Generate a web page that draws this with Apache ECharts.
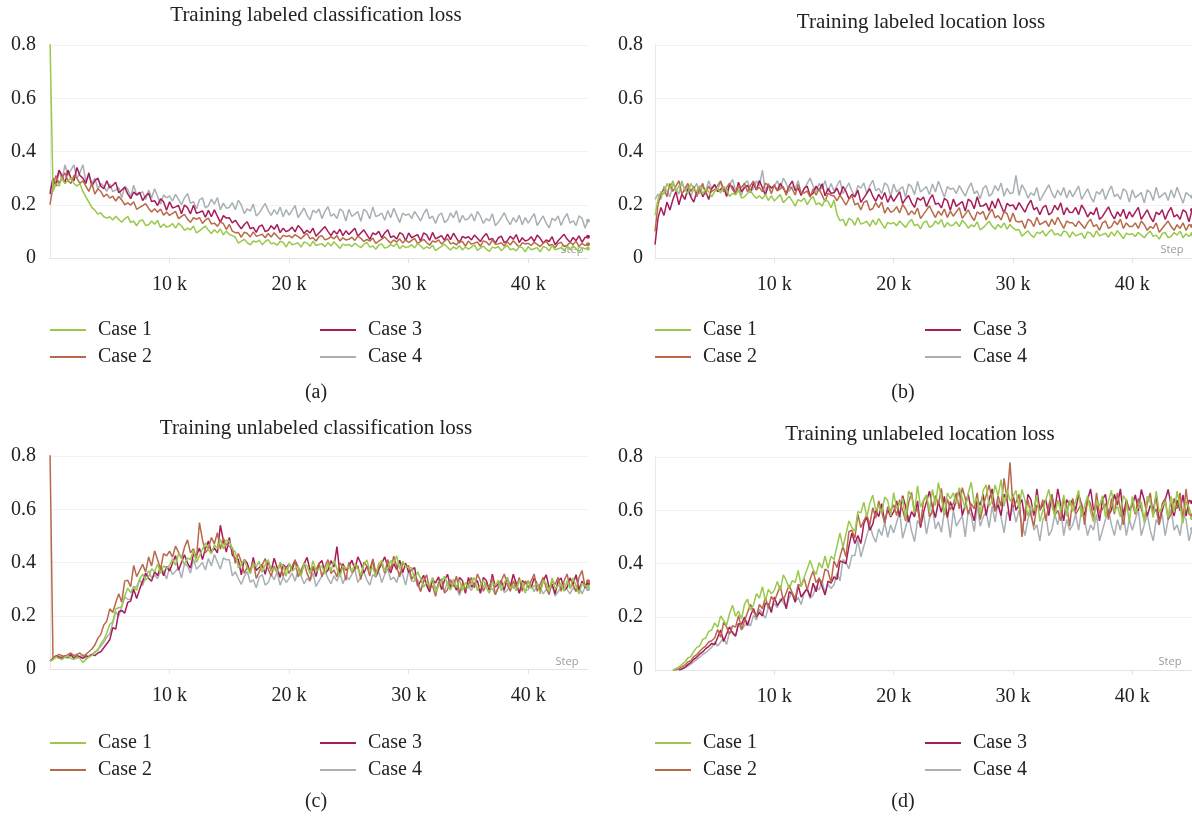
<!DOCTYPE html>
<html>
<head>
<meta charset="utf-8">
<script src="https://cdn.jsdelivr.net/npm/echarts@6/dist/echarts.min.js"></script>
<style>
html,body{margin:0;padding:0;background:#fff;}
#chart{width:1192px;height:822px;}
</style>
</head>
<body>
<div id="chart"></div>
<script>
// x positions: one value every 250 steps, 0 .. 45000
const steps = Array.from({length: 181}, (_, i) => i * 250);
const caseNames = ['Case 1', 'Case 2', 'Case 3', 'Case 4'];
const titles = ['Training labeled classification loss', 'Training labeled location loss',
                'Training unlabeled classification loss', 'Training unlabeled location loss'];
const captions = ['(a)', '(b)', '(c)', '(d)'];
const yTicks = [0, 0.2, 0.4, 0.6, 0.8];
const xTicks = [10000, 20000, 30000, 40000];

// (a) Training labeled classification loss
const aCase1 = [
 0.82,0.25,0.28,0.27,0.30,0.28,0.29,0.30,0.28,0.27,0.28,0.25,0.23,0.21,0.19,0.18,0.165,0.17,0.155,0.15,
 0.155,0.143,0.157,0.145,0.134,0.147,0.156,0.134,0.138,0.121,0.14,0.143,0.122,0.125,0.139,0.127,0.141,0.114,0.128,0.116,
 0.12,0.129,0.112,0.131,0.12,0.104,0.112,0.106,0.12,0.094,0.102,0.111,0.12,0.104,0.092,0.106,0.095,0.109,0.087,0.101,
 0.088,0.084,0.078,0.056,0.063,0.07,0.058,0.049,0.064,0.06,0.067,0.05,0.062,0.069,0.053,0.056,0.048,0.063,0.059,0.042,
 0.062,0.05,0.053,0.057,0.041,0.06,0.056,0.044,0.063,0.047,0.051,0.054,0.042,0.058,0.045,0.061,0.049,0.036,0.052,0.048,
 0.051,0.043,0.055,0.047,0.039,0.051,0.059,0.041,0.045,0.033,0.049,0.053,0.037,0.041,0.051,0.043,0.055,0.035,0.047,0.039,
 0.042,0.05,0.038,0.054,0.046,0.034,0.042,0.036,0.048,0.028,0.036,0.044,0.052,0.04,0.03,0.042,0.034,0.046,0.03,0.042,
 0.033,0.041,0.049,0.029,0.037,0.045,0.033,0.025,0.041,0.037,0.043,0.027,0.039,0.047,0.031,0.035,0.027,0.043,0.039,0.023,
 0.043,0.031,0.035,0.039,0.023,0.043,0.039,0.027,0.047,0.031,0.035,0.039,0.027,0.043,0.031,0.047,0.035,0.023,0.039,0.035,
 0.036];
const aCase2 = [
 0.20,0.27,0.31,0.28,0.30,0.32,0.29,0.28,0.31,0.30,0.28,0.29,0.27,0.25,0.28,0.24,0.26,0.25,0.23,0.24,
 0.225,0.232,0.214,0.231,0.218,0.20,0.207,0.199,0.211,0.183,0.19,0.197,0.204,0.186,0.173,0.185,0.172,0.184,0.161,0.173,
 0.16,0.168,0.175,0.148,0.156,0.164,0.146,0.134,0.152,0.145,0.152,0.13,0.143,0.15,0.128,0.131,0.119,0.136,0.129,0.107,
 0.126,0.101,0.095,0.096,0.078,0.097,0.092,0.079,0.098,0.082,0.085,0.089,0.076,0.092,0.079,0.095,0.082,0.07,0.085,0.081,
 0.084,0.076,0.088,0.08,0.072,0.084,0.092,0.072,0.076,0.064,0.08,0.084,0.068,0.072,0.08,0.072,0.084,0.064,0.076,0.068,
 0.07,0.078,0.066,0.082,0.074,0.062,0.07,0.063,0.075,0.055,0.063,0.071,0.079,0.067,0.056,0.068,0.06,0.072,0.056,0.068,
 0.058,0.066,0.074,0.054,0.062,0.07,0.058,0.048,0.064,0.06,0.068,0.052,0.064,0.072,0.053,0.057,0.049,0.065,0.061,0.045,
 0.064,0.052,0.056,0.06,0.044,0.064,0.06,0.048,0.068,0.052,0.053,0.057,0.045,0.061,0.049,0.065,0.053,0.041,0.057,0.053,
 0.055,0.047,0.059,0.051,0.043,0.055,0.063,0.047,0.051,0.039,0.055,0.059,0.043,0.047,0.059,0.051,0.063,0.043,0.055,0.047,
 0.052];
const aCase3 = [
 0.24,0.30,0.27,0.33,0.31,0.28,0.33,0.30,0.29,0.34,0.31,0.30,0.28,0.32,0.27,0.29,0.30,0.27,0.26,0.29,
 0.263,0.273,0.284,0.245,0.255,0.266,0.241,0.223,0.248,0.237,0.247,0.216,0.233,0.243,0.212,0.215,0.197,0.222,0.211,0.179,
 0.211,0.188,0.192,0.197,0.166,0.199,0.189,0.166,0.198,0.168,0.172,0.177,0.153,0.179,0.155,0.181,0.157,0.134,0.159,0.15,
 0.151,0.132,0.142,0.125,0.11,0.126,0.136,0.11,0.115,0.096,0.119,0.124,0.099,0.104,0.121,0.108,0.126,0.095,0.112,0.099,
 0.104,0.116,0.098,0.122,0.11,0.092,0.104,0.094,0.112,0.082,0.094,0.106,0.118,0.1,0.084,0.102,0.09,0.108,0.084,0.102,
 0.088,0.1,0.112,0.082,0.094,0.106,0.088,0.07,0.094,0.088,0.1,0.076,0.094,0.106,0.077,0.083,0.071,0.095,0.089,0.065,
 0.094,0.076,0.082,0.088,0.064,0.094,0.088,0.066,0.096,0.072,0.078,0.084,0.066,0.09,0.069,0.093,0.075,0.057,0.081,0.075,
 0.08,0.068,0.086,0.074,0.062,0.08,0.092,0.068,0.074,0.056,0.076,0.082,0.058,0.064,0.082,0.07,0.088,0.058,0.076,0.064,
 0.068,0.08,0.062,0.086,0.074,0.056,0.068,0.062,0.08,0.05,0.065,0.077,0.089,0.071,0.059,0.077,0.065,0.083,0.059,0.077,
 0.08];
const aCase4 = [
 0.25,0.30,0.28,0.33,0.29,0.35,0.31,0.33,0.35,0.30,0.32,0.35,0.29,0.31,0.28,0.30,0.26,0.28,0.27,0.25,
 0.278,0.249,0.256,0.264,0.226,0.269,0.258,0.229,0.273,0.235,0.242,0.249,0.22,0.255,0.226,0.26,0.231,0.202,0.237,0.226,
 0.233,0.214,0.239,0.22,0.2,0.226,0.242,0.205,0.212,0.184,0.218,0.226,0.188,0.196,0.221,0.202,0.227,0.181,0.206,0.187,
 0.19,0.208,0.181,0.217,0.199,0.167,0.185,0.176,0.203,0.158,0.169,0.187,0.205,0.178,0.16,0.182,0.164,0.191,0.155,0.182,
 0.161,0.179,0.197,0.152,0.17,0.188,0.161,0.143,0.179,0.17,0.184,0.148,0.175,0.193,0.157,0.166,0.148,0.184,0.175,0.139,
 0.183,0.156,0.165,0.174,0.138,0.183,0.174,0.147,0.192,0.156,0.16,0.169,0.142,0.178,0.151,0.187,0.16,0.133,0.169,0.16,
 0.166,0.148,0.175,0.157,0.139,0.166,0.184,0.148,0.157,0.13,0.16,0.169,0.133,0.142,0.169,0.151,0.178,0.133,0.16,0.142,
 0.148,0.166,0.139,0.175,0.157,0.13,0.148,0.139,0.166,0.121,0.134,0.152,0.17,0.143,0.125,0.152,0.134,0.161,0.125,0.152,
 0.131,0.149,0.167,0.122,0.14,0.158,0.131,0.113,0.149,0.14,0.158,0.122,0.149,0.167,0.131,0.14,0.122,0.158,0.149,0.113,
 0.14];

// (b) Training labeled location loss
const bCase1 = [
 0.16,0.22,0.25,0.24,0.28,0.26,0.29,0.25,0.27,0.28,0.26,0.24,0.28,0.26,0.25,0.27,0.24,0.26,0.25,0.23,
 0.25,0.262,0.244,0.268,0.256,0.231,0.243,0.237,0.255,0.225,0.23,0.242,0.254,0.236,0.224,0.234,0.222,0.24,0.216,0.234,
 0.214,0.226,0.238,0.208,0.22,0.232,0.214,0.195,0.219,0.213,0.225,0.201,0.219,0.231,0.201,0.207,0.195,0.219,0.213,0.189,
 0.217,0.164,0.14,0.145,0.12,0.149,0.142,0.123,0.152,0.127,0.132,0.138,0.119,0.143,0.124,0.148,0.129,0.111,0.134,0.128,
 0.133,0.121,0.139,0.127,0.115,0.133,0.145,0.121,0.127,0.109,0.133,0.139,0.115,0.121,0.139,0.127,0.145,0.115,0.133,0.121,
 0.124,0.136,0.118,0.142,0.13,0.112,0.124,0.118,0.136,0.106,0.114,0.126,0.138,0.12,0.108,0.126,0.114,0.132,0.108,0.126,
 0.113,0.105,0.107,0.082,0.092,0.102,0.087,0.077,0.097,0.092,0.102,0.082,0.097,0.107,0.087,0.092,0.082,0.102,0.097,0.077,
 0.098,0.083,0.088,0.093,0.073,0.098,0.093,0.078,0.103,0.083,0.088,0.093,0.078,0.098,0.083,0.103,0.088,0.073,0.093,0.088,
 0.091,0.081,0.096,0.086,0.076,0.091,0.101,0.081,0.086,0.071,0.091,0.096,0.076,0.081,0.096,0.086,0.101,0.076,0.091,0.081,
 0.09];
const bCase2 = [
 0.10,0.20,0.24,0.26,0.23,0.28,0.25,0.27,0.29,0.24,0.26,0.28,0.25,0.27,0.23,0.26,0.28,0.24,0.27,0.25,
 0.257,0.273,0.289,0.249,0.265,0.281,0.257,0.241,0.273,0.265,0.281,0.249,0.273,0.289,0.257,0.265,0.249,0.281,0.273,0.241,
 0.276,0.252,0.26,0.268,0.236,0.268,0.26,0.236,0.276,0.244,0.244,0.252,0.228,0.26,0.236,0.26,0.236,0.212,0.244,0.236,
 0.233,0.215,0.236,0.218,0.199,0.221,0.235,0.2,0.206,0.18,0.209,0.215,0.18,0.186,0.208,0.189,0.211,0.168,0.19,0.172,
 0.177,0.193,0.169,0.201,0.185,0.161,0.177,0.164,0.188,0.148,0.164,0.18,0.196,0.172,0.152,0.176,0.16,0.184,0.152,0.176,
 0.157,0.173,0.189,0.149,0.165,0.181,0.157,0.141,0.173,0.165,0.175,0.143,0.167,0.183,0.151,0.159,0.143,0.175,0.167,0.135,
 0.169,0.138,0.135,0.139,0.111,0.146,0.139,0.118,0.153,0.125,0.132,0.139,0.118,0.146,0.125,0.153,0.132,0.111,0.139,0.132,
 0.132,0.118,0.139,0.125,0.111,0.132,0.146,0.118,0.125,0.104,0.132,0.139,0.111,0.118,0.139,0.125,0.146,0.111,0.132,0.118,
 0.118,0.132,0.111,0.139,0.125,0.104,0.118,0.111,0.132,0.097,0.111,0.125,0.139,0.118,0.104,0.125,0.111,0.132,0.104,0.125,
 0.12];
const bCase3 = [
 0.05,0.15,0.19,0.16,0.21,0.18,0.22,0.25,0.20,0.24,0.22,0.26,0.23,0.21,0.25,0.27,0.23,0.25,0.22,0.26,
 0.276,0.249,0.258,0.267,0.231,0.276,0.267,0.24,0.285,0.249,0.264,0.273,0.246,0.282,0.255,0.291,0.264,0.237,0.273,0.264,
 0.271,0.253,0.28,0.262,0.244,0.271,0.289,0.253,0.262,0.235,0.261,0.27,0.234,0.243,0.27,0.252,0.279,0.234,0.261,0.243,
 0.245,0.262,0.234,0.269,0.25,0.222,0.239,0.229,0.255,0.209,0.226,0.243,0.26,0.232,0.213,0.239,0.22,0.246,0.209,0.235,
 0.213,0.231,0.249,0.204,0.222,0.235,0.208,0.19,0.226,0.217,0.229,0.193,0.22,0.238,0.202,0.206,0.188,0.224,0.215,0.179,
 0.221,0.194,0.203,0.212,0.176,0.221,0.212,0.185,0.23,0.194,0.196,0.205,0.178,0.214,0.187,0.223,0.196,0.169,0.205,0.196,
 0.199,0.181,0.208,0.19,0.172,0.199,0.217,0.181,0.19,0.163,0.189,0.198,0.162,0.171,0.198,0.18,0.207,0.162,0.189,0.171,
 0.172,0.19,0.163,0.199,0.181,0.154,0.172,0.163,0.19,0.145,0.156,0.174,0.192,0.165,0.147,0.174,0.156,0.183,0.147,0.174,
 0.154,0.172,0.19,0.145,0.163,0.181,0.154,0.136,0.172,0.163,0.181,0.145,0.172,0.19,0.154,0.163,0.145,0.181,0.172,0.136,
 0.18];
const bCase4 = [
 0.22,0.24,0.22,0.27,0.25,0.23,0.28,0.26,0.24,0.29,0.25,0.27,0.23,0.26,0.28,0.24,0.27,0.25,0.29,0.26,
 0.275,0.255,0.285,0.265,0.245,0.275,0.295,0.255,0.265,0.235,0.28,0.29,0.25,0.26,0.29,0.27,0.33,0.25,0.28,0.26,
 0.27,0.29,0.26,0.30,0.28,0.25,0.27,0.26,0.29,0.24,0.26,0.28,0.30,0.27,0.25,0.28,0.26,0.29,0.25,0.28,
 0.252,0.272,0.292,0.242,0.262,0.282,0.252,0.232,0.272,0.262,0.282,0.242,0.272,0.292,0.252,0.262,0.242,0.282,0.272,0.232,
 0.278,0.248,0.258,0.268,0.228,0.278,0.268,0.238,0.288,0.248,0.258,0.268,0.238,0.278,0.248,0.288,0.258,0.228,0.268,0.258,
 0.262,0.242,0.272,0.252,0.232,0.262,0.282,0.242,0.252,0.222,0.262,0.272,0.232,0.242,0.272,0.252,0.282,0.232,0.262,0.242,
 0.245,0.31,0.235,0.275,0.255,0.225,0.245,0.235,0.265,0.215,0.235,0.255,0.275,0.245,0.225,0.255,0.235,0.265,0.225,0.255,
 0.23,0.25,0.27,0.22,0.24,0.26,0.23,0.21,0.25,0.24,0.26,0.22,0.25,0.27,0.23,0.24,0.22,0.26,0.25,0.21,
 0.256,0.226,0.236,0.246,0.206,0.256,0.246,0.216,0.266,0.226,0.236,0.246,0.216,0.256,0.226,0.266,0.236,0.206,0.246,0.236,
 0.23];

// (c) Training unlabeled classification loss
const cCase1 = [
 0.03,0.035,0.045,0.04,0.035,0.045,0.05,0.04,0.035,0.045,0.04,0.025,0.035,0.045,0.05,0.065,0.07,0.095,0.11,0.135,
 0.168,0.177,0.226,0.23,0.234,0.273,0.304,0.287,0.31,0.296,0.338,0.356,0.334,0.347,0.376,0.365,0.394,0.359,0.388,0.377,
 0.39,0.414,0.389,0.433,0.418,0.392,0.417,0.411,0.446,0.40,0.425,0.449,0.474,0.448,0.433,0.467,0.452,0.486,0.451,0.485,
 0.48,0.45,0.44,0.38,0.395,0.41,0.38,0.358,0.396,0.385,0.404,0.363,0.392,0.411,0.37,0.38,0.36,0.399,0.388,0.348,
 0.397,0.367,0.377,0.387,0.347,0.397,0.387,0.357,0.407,0.367,0.377,0.387,0.357,0.397,0.367,0.407,0.377,0.347,0.387,0.377,
 0.385,0.365,0.395,0.375,0.355,0.39,0.41,0.37,0.38,0.35,0.397,0.407,0.367,0.377,0.407,0.395,0.425,0.375,0.405,0.385,
 0.38,0.38,0.335,0.365,0.34,0.308,0.326,0.314,0.342,0.29,0.31,0.33,0.348,0.318,0.297,0.326,0.306,0.335,0.295,0.325,
 0.304,0.324,0.344,0.294,0.314,0.334,0.304,0.284,0.324,0.314,0.334,0.294,0.324,0.344,0.304,0.314,0.294,0.334,0.324,0.284,
 0.332,0.302,0.312,0.322,0.282,0.332,0.322,0.292,0.342,0.302,0.312,0.322,0.292,0.332,0.302,0.342,0.312,0.282,0.322,0.312,
 0.31];
const cCase2 = [
 0.82,0.04,0.045,0.055,0.05,0.045,0.055,0.06,0.05,0.055,0.06,0.05,0.055,0.065,0.075,0.09,0.115,0.13,0.165,0.18,
 0.226,0.212,0.25,0.283,0.251,0.331,0.333,0.309,0.389,0.347,0.37,0.393,0.364,0.421,0.387,0.444,0.41,0.376,0.433,0.425,
 0.443,0.42,0.462,0.438,0.415,0.457,0.485,0.436,0.452,0.415,0.55,0.486,0.436,0.452,0.494,0.47,0.512,0.45,0.491,0.467,
 0.46,0.456,0.397,0.434,0.403,0.359,0.383,0.368,0.406,0.34,0.365,0.39,0.415,0.375,0.349,0.387,0.361,0.399,0.347,0.385,
 0.359,0.385,0.411,0.346,0.372,0.398,0.359,0.333,0.385,0.372,0.398,0.346,0.385,0.411,0.359,0.372,0.346,0.398,0.385,0.333,
 0.401,0.362,0.375,0.388,0.336,0.401,0.388,0.349,0.414,0.362,0.385,0.398,0.359,0.411,0.372,0.424,0.385,0.346,0.398,0.385,
 0.388,0.337,0.356,0.32,0.292,0.329,0.354,0.301,0.313,0.273,0.325,0.338,0.285,0.298,0.336,0.31,0.349,0.284,0.323,0.297,
 0.318,0.344,0.305,0.357,0.331,0.292,0.318,0.305,0.344,0.279,0.305,0.331,0.357,0.318,0.292,0.331,0.305,0.344,0.292,0.331,
 0.305,0.331,0.357,0.292,0.318,0.344,0.305,0.279,0.331,0.318,0.344,0.292,0.331,0.357,0.305,0.318,0.292,0.344,0.37,0.31,
 0.33];
const cCase3 = [
 0.03,0.04,0.05,0.045,0.04,0.05,0.045,0.055,0.04,0.05,0.045,0.04,0.05,0.045,0.055,0.05,0.06,0.065,0.08,0.095,
 0.11,0.155,0.15,0.215,0.22,0.21,0.25,0.255,0.30,0.265,0.30,0.33,0.36,0.34,0.33,0.365,0.35,0.385,0.35,0.385,
 0.368,0.397,0.426,0.371,0.40,0.429,0.398,0.379,0.432,0.425,0.454,0.411,0.452,0.481,0.438,0.455,0.436,0.54,0.482,0.439,
 0.494,0.428,0.415,0.412,0.354,0.411,0.397,0.36,0.419,0.37,0.381,0.392,0.356,0.404,0.368,0.416,0.38,0.344,0.392,0.38,
 0.395,0.371,0.407,0.383,0.359,0.395,0.419,0.371,0.383,0.347,0.395,0.407,0.359,0.371,0.407,0.383,0.46,0.359,0.395,0.371,
 0.385,0.409,0.373,0.421,0.397,0.361,0.385,0.373,0.409,0.349,0.373,0.397,0.421,0.385,0.361,0.397,0.373,0.409,0.361,0.397,
 0.363,0.372,0.381,0.311,0.33,0.352,0.314,0.289,0.336,0.323,0.346,0.298,0.333,0.356,0.308,0.32,0.296,0.344,0.332,0.284,
 0.344,0.308,0.32,0.332,0.284,0.344,0.332,0.296,0.356,0.308,0.32,0.332,0.296,0.344,0.308,0.356,0.32,0.284,0.332,0.32,
 0.33,0.306,0.342,0.318,0.294,0.33,0.354,0.306,0.318,0.282,0.33,0.342,0.294,0.306,0.342,0.318,0.354,0.294,0.33,0.306,
 0.32];
const cCase4 = [
 0.03,0.035,0.045,0.04,0.05,0.045,0.04,0.05,0.045,0.04,0.05,0.045,0.04,0.05,0.055,0.06,0.075,0.085,0.10,0.12,
 0.132,0.173,0.214,0.199,0.235,0.271,0.262,0.261,0.308,0.31,0.336,0.314,0.348,0.369,0.342,0.352,0.339,0.374,0.368,0.338,
 0.382,0.355,0.367,0.38,0.342,0.395,0.387,0.36,0.412,0.375,0.387,0.40,0.372,0.415,0.387,0.43,0.402,0.375,0.417,0.41,
 0.41,0.35,0.365,0.34,0.318,0.347,0.366,0.326,0.335,0.305,0.345,0.355,0.315,0.325,0.355,0.335,0.365,0.315,0.345,0.325,
 0.34,0.36,0.33,0.37,0.35,0.32,0.34,0.33,0.36,0.31,0.33,0.35,0.37,0.34,0.32,0.35,0.33,0.36,0.32,0.35,
 0.335,0.355,0.375,0.325,0.345,0.365,0.335,0.315,0.355,0.345,0.365,0.325,0.355,0.375,0.335,0.345,0.325,0.365,0.355,0.315,
 0.37,0.33,0.33,0.335,0.29,0.338,0.326,0.295,0.344,0.303,0.312,0.321,0.29,0.33,0.299,0.338,0.307,0.276,0.315,0.305,
 0.311,0.295,0.319,0.303,0.287,0.311,0.327,0.295,0.303,0.279,0.311,0.319,0.287,0.295,0.319,0.303,0.327,0.287,0.311,0.295,
 0.298,0.314,0.29,0.322,0.306,0.282,0.298,0.29,0.314,0.274,0.29,0.306,0.322,0.298,0.282,0.306,0.29,0.314,0.282,0.306,
 0.30];

// (d) Training unlabeled location loss
const dCase1 = [
 null,null,null,null,null,null,0,0.005,0.012,0.02,0.03,0.045,0.05,0.07,0.085,0.09,0.115,0.12,0.145,0.15,
 0.177,0.16,0.203,0.186,0.169,0.212,0.243,0.202,0.221,0.192,0.247,0.266,0.225,0.244,0.287,0.27,0.313,0.26,0.303,0.286,
 0.30,0.332,0.299,0.357,0.337,0.304,0.336,0.329,0.374,0.315,0.347,0.379,0.411,0.378,0.358,0.403,0.383,0.428,0.382,0.427,
 0.415,0.465,0.515,0.46,0.51,0.56,0.535,0.52,0.595,0.59,0.63,0.575,0.625,0.657,0.599,0.616,0.588,0.65,0.637,0.579,
 0.666,0.606,0.626,0.646,0.566,0.672,0.652,0.592,0.692,0.612,0.638,0.658,0.598,0.678,0.618,0.704,0.644,0.584,0.664,0.644,
 0.665,0.625,0.685,0.645,0.605,0.665,0.705,0.625,0.645,0.585,0.675,0.695,0.615,0.635,0.695,0.655,0.715,0.615,0.675,0.635,
 0.65,0.675,0.605,0.678,0.638,0.578,0.618,0.598,0.658,0.558,0.598,0.638,0.678,0.618,0.578,0.638,0.598,0.658,0.578,0.638,
 0.595,0.635,0.675,0.575,0.615,0.655,0.595,0.555,0.635,0.615,0.655,0.575,0.635,0.675,0.595,0.615,0.575,0.655,0.635,0.555,
 0.652,0.592,0.612,0.632,0.552,0.652,0.632,0.572,0.672,0.592,0.612,0.632,0.572,0.652,0.592,0.672,0.612,0.552,0.632,0.612,
 0.57];
const dCase2 = [
 null,null,null,null,null,null,0,0,0.005,0.012,0.018,0.03,0.035,0.05,0.058,0.07,0.082,0.09,0.105,0.11,
 0.12,0.152,0.123,0.179,0.162,0.134,0.166,0.161,0.205,0.152,0.184,0.216,0.247,0.219,0.202,0.246,0.23,0.273,0.233,0.276,
 0.258,0.287,0.316,0.261,0.29,0.319,0.288,0.269,0.322,0.315,0.344,0.301,0.342,0.371,0.328,0.345,0.326,0.379,0.372,0.329,
 0.41,0.385,0.425,0.465,0.425,0.52,0.525,0.495,0.585,0.535,0.56,0.583,0.545,0.61,0.57,0.635,0.593,0.551,0.613,0.60,
 0.62,0.58,0.64,0.60,0.56,0.627,0.667,0.587,0.607,0.547,0.635,0.655,0.575,0.595,0.655,0.622,0.682,0.582,0.642,0.602,
 0.625,0.665,0.605,0.685,0.645,0.585,0.625,0.605,0.665,0.565,0.615,0.655,0.695,0.635,0.595,0.655,0.615,0.72,0.64,0.78,
 0.61,0.63,0.66,0.50,0.60,0.64,0.58,0.54,0.62,0.60,0.64,0.56,0.62,0.66,0.58,0.60,0.56,0.64,0.62,0.54,
 0.645,0.585,0.605,0.625,0.545,0.645,0.625,0.565,0.665,0.585,0.605,0.625,0.565,0.645,0.585,0.665,0.605,0.545,0.625,0.605,
 0.625,0.585,0.645,0.605,0.565,0.625,0.665,0.585,0.605,0.545,0.625,0.645,0.565,0.585,0.645,0.605,0.665,0.565,0.68,0.585,
 0.58];
const dCase3 = [
 null,null,null,null,null,null,null,null,0,0.004,0.01,0.02,0.028,0.04,0.048,0.06,0.068,0.08,0.088,0.10,
 0.095,0.122,0.15,0.107,0.135,0.162,0.139,0.127,0.174,0.172,0.199,0.166,0.204,0.231,0.199,0.216,0.203,0.251,0.248,0.216,
 0.274,0.242,0.258,0.274,0.23,0.294,0.286,0.254,0.318,0.274,0.29,0.306,0.274,0.326,0.294,0.346,0.314,0.282,0.334,0.326,
 0.35,0.34,0.41,0.405,0.40,0.465,0.515,0.475,0.505,0.475,0.55,0.575,0.525,0.548,0.60,0.576,0.625,0.554,0.603,0.575,
 0.595,0.635,0.575,0.655,0.615,0.555,0.595,0.575,0.635,0.535,0.592,0.632,0.672,0.612,0.572,0.632,0.592,0.652,0.572,0.632,
 0.60,0.64,0.68,0.58,0.62,0.66,0.60,0.56,0.64,0.62,0.66,0.58,0.64,0.68,0.60,0.62,0.58,0.66,0.64,0.56,
 0.66,0.60,0.62,0.64,0.56,0.66,0.64,0.58,0.68,0.60,0.62,0.64,0.58,0.66,0.60,0.68,0.62,0.56,0.64,0.62,
 0.64,0.60,0.66,0.62,0.58,0.64,0.68,0.60,0.62,0.56,0.64,0.66,0.58,0.60,0.66,0.62,0.68,0.58,0.64,0.60,
 0.618,0.658,0.598,0.678,0.638,0.578,0.618,0.598,0.658,0.558,0.598,0.638,0.678,0.618,0.578,0.638,0.598,0.658,0.578,0.638,
 0.63];
const dCase4 = [
 null,null,null,null,null,null,null,null,0,0.003,0.008,0.015,0.022,0.03,0.04,0.048,0.058,0.065,0.075,0.085,
 0.106,0.09,0.105,0.121,0.096,0.144,0.144,0.127,0.175,0.15,0.166,0.182,0.165,0.205,0.188,0.228,0.212,0.195,0.235,0.234,
 0.25,0.234,0.268,0.252,0.236,0.27,0.294,0.258,0.272,0.246,0.29,0.304,0.268,0.282,0.316,0.30,0.334,0.288,0.322,0.306,
 0.32,0.365,0.335,0.415,0.405,0.38,0.43,0.43,0.49,0.425,0.465,0.505,0.545,0.505,0.48,0.53,0.505,0.555,0.498,0.545,
 0.515,0.555,0.595,0.495,0.535,0.582,0.522,0.482,0.562,0.542,0.59,0.51,0.57,0.61,0.53,0.557,0.517,0.597,0.577,0.497,
 0.60,0.54,0.56,0.58,0.50,0.60,0.58,0.52,0.62,0.54,0.575,0.595,0.535,0.615,0.555,0.635,0.575,0.515,0.595,0.575,
 0.61,0.555,0.60,0.55,0.505,0.565,0.605,0.525,0.545,0.485,0.565,0.585,0.505,0.525,0.585,0.545,0.605,0.505,0.565,0.525,
 0.545,0.585,0.525,0.605,0.565,0.505,0.545,0.525,0.585,0.485,0.525,0.565,0.605,0.545,0.505,0.565,0.525,0.585,0.505,0.565,
 0.525,0.565,0.605,0.505,0.545,0.585,0.525,0.485,0.565,0.545,0.585,0.505,0.565,0.605,0.525,0.545,0.505,0.585,0.565,0.485,
 0.53];

const panelData = [
  [aCase1, aCase2, aCase3, aCase4],
  [bCase1, bCase2, bCase3, bCase4],
  [cCase1, cCase2, cCase3, cCase4],
  [dCase1, dCase2, dCase3, dCase4]
];

// ---------- styling / layout ----------
const colors = ['#98c94c', '#b9694b', '#a61c5a', '#a8b0b5'];
const serif = '"Liberation Serif", "DejaVu Serif", serif';
const panels = [
  {left: 50,  top: 45,  width: 538, titleX: 316, titleY: 15,  capX: 316, capY: 393, legY: 320, stepX: 572,  stepY: 250},
  {left: 655, top: 45,  width: 540, titleX: 921, titleY: 22,  capX: 903, capY: 393, legY: 320, stepX: 1172, stepY: 250},
  {left: 50,  top: 456, width: 538, titleX: 316, titleY: 428, capX: 316, capY: 802, legY: 733, stepX: 567,  stepY: 662},
  {left: 655, top: 457, width: 540, titleX: 920, titleY: 434, capX: 903, capY: 802, legY: 733, stepX: 1170, stepY: 662}
];
const plotH = 213;

const grid = [], xAxis = [], yAxis = [], series = [], legend = [], graphic = [];
panels.forEach((p, k) => {
  grid.push({left: p.left, top: p.top, width: p.width, height: plotH, containLabel: false});
  xAxis.push({
    type: 'value', gridIndex: k, min: 0, max: 45000, interval: 10000,
    axisLine: {show: true, lineStyle: {color: '#e3e3e3', width: 1}},
    axisTick: {show: true, length: 5, lineStyle: {color: '#e3e3e3'}},
    splitLine: {show: false},
    axisLabel: {
      showMinLabel: false, showMaxLabel: false, margin: 17,
      color: '#222', fontFamily: serif, fontSize: 20,
      formatter: v => (xTicks.includes(v) ? (v / 1000) + ' k' : '')
    }
  });
  yAxis.push({
    type: 'value', gridIndex: k, min: 0, max: 0.8, interval: 0.2,
    axisLine: {show: true, lineStyle: {color: '#e8e8e8', width: 1}},
    axisTick: {show: false},
    splitLine: {show: true, lineStyle: {color: '#f1f1f1', width: 1}},
    axisLabel: {
      margin: k % 2 === 0 ? 14 : 12, color: '#222', fontFamily: serif, fontSize: 20,
      formatter: v => { const t = yTicks.find(y => Math.abs(y - v) < 1e-9); return t === 0 ? '0' : t.toFixed(1); }
    }
  });
  // draw gray first, green last (green on top)
  [3, 2, 1, 0].forEach(c => {
    const vals = panelData[k][c];
    const last = vals.length - 1;
    series.push({
      name: caseNames[c], type: 'line', xAxisIndex: k, yAxisIndex: k,
      data: steps.map((s, i) => {
        const v = vals[i] === undefined ? null : vals[i];
        return i === last ? {value: [s, v], symbol: 'circle', symbolSize: 4} : [s, v];
      }),
      showSymbol: true, showAllSymbol: true, symbol: 'none', smooth: false, connectNulls: false,
      lineStyle: {color: colors[c], width: 1.5}, itemStyle: {color: colors[c]},
      animation: false, z: 2
    });
  });
  const legCommon = {
    orient: 'vertical', top: p.legY, itemWidth: 36, itemHeight: 2, itemGap: 7, padding: 0,
    icon: 'rect', selectedMode: false,
    textStyle: {color: '#222', fontFamily: serif, fontSize: 20, padding: [0, 0, 0, 7]}
  };
  legend.push(Object.assign({}, legCommon, {left: p.left, data: ['Case 1', 'Case 2']}));
  legend.push(Object.assign({}, legCommon, {left: p.left + 270, data: ['Case 3', 'Case 4']}));

  graphic.push({type: 'text', x: p.titleX, y: p.titleY,
    style: {text: titles[k], fill: '#222', font: '21px ' + serif, textAlign: 'center', textVerticalAlign: 'middle'}});
  graphic.push({type: 'text', x: p.capX, y: p.capY,
    style: {text: captions[k], fill: '#222', font: '20px ' + serif, textAlign: 'center', textVerticalAlign: 'middle'}});
  graphic.push({type: 'text', x: p.stepX, y: p.stepY,
    style: {text: 'Step', fill: '#9a9a9a', font: '11px "Open Sans", "DejaVu Sans", sans-serif', textAlign: 'center', textVerticalAlign: 'middle'}});
});

const chart = echarts.init(document.getElementById('chart'), null, {renderer: 'canvas'});
chart.setOption({
  backgroundColor: '#ffffff',
  animation: false,
  grid, xAxis, yAxis, series, legend, graphic
});
</script>
</body>
</html>
